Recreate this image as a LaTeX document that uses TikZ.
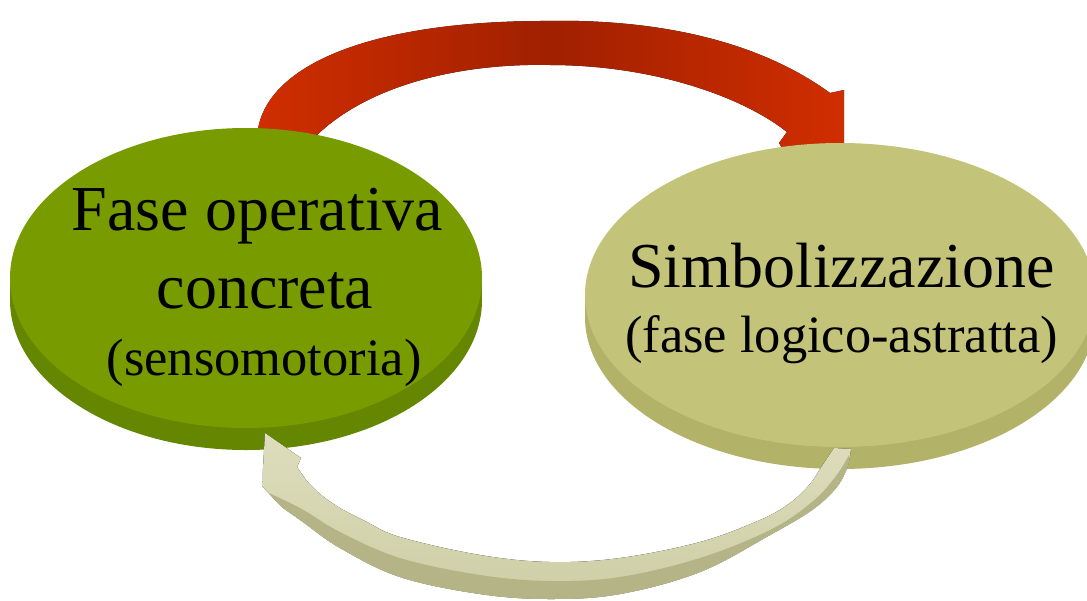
\documentclass[tikz,border=0pt]{standalone}
\usepackage{fontspec}
\setmainfont{Liberation Serif}
\usetikzlibrary{shapes.geometric}
\definecolor{grtop}{RGB}{120,156,0}
\definecolor{grside}{RGB}{100,134,0}
\definecolor{oltop}{RGB}{195,195,122}
\definecolor{olside}{RGB}{178,178,104}
\definecolor{redA}{RGB}{208,46,0}
\definecolor{redB}{RGB}{160,32,0}
\definecolor{arrA}{RGB}{222,222,190}
\definecolor{arrB}{RGB}{205,205,165}
\definecolor{arrS}{RGB}{180,180,134}
\begin{document}
\begin{tikzpicture}[x=1pt,y=-1pt,
  bigtxt/.style={font=\fontsize{64}{70}\selectfont, anchor=base, inner sep=0pt},
  smalltxt/.style={font=\fontsize{52.5}{60}\selectfont, anchor=base, inner sep=0pt},
  disctop/.style={ellipse, inner sep=0pt, outer sep=0pt, draw=none}]
\useasboundingbox (0,0) rectangle (1087,600);
\fill[white] (0,0) rectangle (1087,600);

% red arrow (behind the discs)
\fill[left color=redA, right color=redA, middle color=redB]
  (257,140) .. controls (258,70) and (360,22) .. (540,21)
  .. controls (660,18) and (760,42) .. (830,93)
  -- (844,90) -- (844,146) -- (782,148) -- (779,143) -- (787,132)
  .. controls (740,95) and (650,65) .. (550,65)
  .. controls (460,63) and (365,85) .. (312,140) -- cycle;

% left disc
\fill[grside] (246,300) ellipse [x radius=236pt, y radius=150pt];
\fill[grside] (10,278) rectangle (482,300);
\node[disctop, fill=grtop, minimum width=472pt, minimum height=300pt] (fase) at (246,278) {};

% right disc
\fill[olside] (840,317) ellipse [x radius=255pt, y radius=152pt];
\fill[olside] (585,295) rectangle (1095,317);
\node[disctop, fill=oltop, minimum width=510pt, minimum height=304pt] (simb) at (840,295) {};

% light arrow (in front of the discs)
\begin{scope}
\clip
  plot[smooth, tension=0.6] coordinates {(851,449) (847,468) (836,488) (812,510) (770,535) (700,572) (620,594) (550,599) (480,594) (400,577) (340,548) (303,522) (283,508)}
  -- (276,501) -- (262,486) -- (265,433) -- (301,458) -- (297,467)
  -- plot[smooth, tension=0.6] coordinates {(306,480) (320,494) (340,508) (365,521) (400,537) (480,555) (550,562) (620,558) (700,542) (760,520) (790,503) (810,484) (822,466) (834,448)}
  -- cycle;
\fill[top color=arrA, bottom color=arrB] (250,425) rectangle (860,605);
\fill[arrS] plot[smooth, tension=0.6] coordinates {(262,490) (300,508) (340,532) (400,558) (480,575) (550,581) (620,577) (700,558) (770,530) (812,502) (836,476) (849,455)}
  -- (870,610) -- (250,610) -- cycle;
\end{scope}

% texts
\node[bigtxt] (t1) at (257.5,230) {Fase operativa};
\node[bigtxt] (t2) at (265,308) {concreta};
\node[smalltxt] (t3) at (264,375) {(sensomotoria)};
\node[bigtxt] (t4) at (841.5,287) {Simbolizzazione};
\node[smalltxt] (t5) at (841.5,352) {(fase logico-astratta)};
\end{tikzpicture}
\end{document}
